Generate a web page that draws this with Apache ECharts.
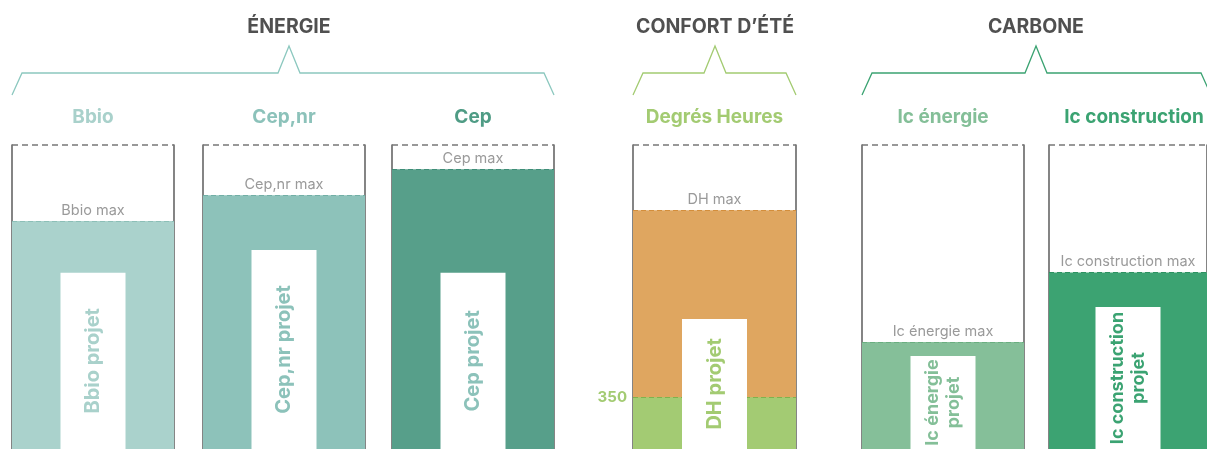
<!DOCTYPE html>
<html>
<head>
<meta charset="utf-8">
<script src="https://cdn.jsdelivr.net/npm/echarts@6/dist/echarts.min.js"></script>
<style>
html,body{margin:0;padding:0;background:#fff;}
#chart{width:1207px;height:449px;}
</style>
</head>
<body>
<div id="chart"></div>
<script>
// ---- DATA ----
const groupTitles = ['ÉNERGIE', 'CONFORT D’ÉTÉ', 'CARBONE'];
const categories = ['Bbio', 'Cep,nr', 'Cep', 'Degrés Heures', 'Ic énergie', 'Ic construction'];
const maxLabels = ['Bbio max', 'Cep,nr max', 'Cep max', 'DH max', 'Ic énergie max', 'Ic construction max'];
const projetLabels = ['Bbio projet', 'Cep,nr projet', 'Cep projet', 'DH projet', 'Ic énergie\nprojet', 'Ic construction\nprojet'];
const maxValues = [75, 83.5, 92, 78.5, 35.2, 58.1];      // relative height (0-100 scale)
const projetValues = [58, 65.5, 58, 42.8, 30.6, 46.7];
const dhThresholdValue = 17;
const dhThresholdLabel = '350';
const axisMax = 100;

// ---- STYLE / LAYOUT ----
const FONT = 'Inter';
const colLeft = [12, 203, 392, 633, 862, 1049];
const colWidth = [162, 162, 162, 163, 162, 170];
const gridTop = 145, gridHeight = 304;
const fillColors = ['#aad2cc', '#8dc2ba', '#579f8a', '#dfa660', '#85bf99', '#3ca372'];
const lineColors = ['#8cbfb7', '#72afa6', '#3f8e78', '#d38e3c', '#6aae80', '#2d9261'];
const headerColors = ['#a9d1cb', '#8cc2ba', '#4f9c85', '#a3cb72', '#84bf98', '#3ba372'];
const projetColors = ['#a9d1cb', '#8cc2ba', '#8cc2ba', '#a3cb72', '#84bf98', '#3ba372'];
const dhGreen = '#a3cb73';
const groupColors = ['#8cc8bf', '#a3cb72', '#3ba372'];
const groupCols = [[0, 2], [3, 3], [4, 5]];
const groupPeaks = [289, 715, 1036];

const grids = [], xAxes = [], yAxes = [], series = [];
categories.forEach((cat, i) => {
  grids.push({left: colLeft[i], top: gridTop, width: colWidth[i], height: gridHeight, containLabel: false});
  const xBase = {type: 'category', gridIndex: i, data: [cat], show: false};
  xAxes.push(Object.assign({}, xBase));
  xAxes.push(Object.assign({}, xBase));
  const yBase = {
    type: 'value', gridIndex: i, min: 0, max: axisMax,
    axisLine: {show: true, lineStyle: {color: '#666', width: 1.6}},
    axisTick: {show: false}, axisLabel: {show: false}, splitLine: {show: false}
  };
  yAxes.push(Object.assign({position: 'left'}, yBase));
  yAxes.push(Object.assign({position: 'right'}, yBase));

  const markData = [
    {yAxis: maxValues[i], lineStyle: {color: lineColors[i], type: [5, 3], width: 1.2},
     label: {show: true, formatter: maxLabels[i], position: 'insideMiddleTop', color: '#9a9a9a',
             fontSize: 14.5, fontFamily: FONT, distance: 3}},
    {yAxis: axisMax, lineStyle: {color: '#777', type: [6, 4], width: 1.5}, label: {show: false}}
  ];
  series.push({
    type: 'bar', xAxisIndex: 2 * i, yAxisIndex: 2 * i, barWidth: '100%', barGap: '-100%', z: 2,
    data: [maxValues[i]], itemStyle: {color: fillColors[i]}, silent: true,
    markLine: {symbol: 'none', silent: true, data: markData}
  });
  if (i === 3) {
    series.push({
      type: 'bar', xAxisIndex: 2 * i, yAxisIndex: 2 * i, barWidth: '100%', barGap: '-100%', z: 2,
      data: [dhThresholdValue], itemStyle: {color: dhGreen}, silent: true,
      markLine: {symbol: 'none', silent: true, data: [
        {yAxis: dhThresholdValue, lineStyle: {color: '#7fb24d', type: [5, 3], width: 1.2},
         label: {show: true, formatter: dhThresholdLabel, position: 'start', color: '#a3cb72',
                 fontWeight: 'bold', fontSize: 15, fontFamily: FONT, distance: 6}}
      ]}
    });
  }
  const twoLine = projetLabels[i].indexOf('\n') >= 0;
  series.push({
    type: 'bar', xAxisIndex: 2 * i + 1, yAxisIndex: 2 * i, barWidth: 65, z: 10,
    data: [projetValues[i]], itemStyle: {color: '#ffffff'}, silent: true,
    label: {show: true, position: 'inside', rotate: 90, formatter: projetLabels[i],
            color: projetColors[i], fontWeight: 'bold', fontSize: twoLine ? 18 : 20, fontFamily: FONT,
            lineHeight: 21, align: 'center', verticalAlign: 'middle'}
  });
});

// ---- Headers and brackets ----
const graphics = [];
categories.forEach((cat, i) => {
  graphics.push({type: 'text', x: colLeft[i] + colWidth[i] / 2, y: 117,
    style: {text: cat, fill: headerColors[i], font: 'bold 19px ' + FONT, textAlign: 'center', textVerticalAlign: 'middle'}});
});
groupTitles.forEach((t, g) => {
  const a = colLeft[groupCols[g][0]];
  const last = groupCols[g][1];
  const b = colLeft[last] + (g === 2 ? 162 : colWidth[last]);
  const p = groupPeaks[g];
  graphics.push({type: 'text', x: p, y: 27,
    style: {text: t, fill: '#505050', font: 'bold 19.5px ' + FONT, textAlign: 'center', textVerticalAlign: 'middle'}});
  graphics.push({type: 'polyline', silent: true,
    shape: {points: [[a, 95], [a + 10, 73], [p - 11, 73], [p, 46], [p + 11, 73], [b - 10, 73], [b, 95]]},
    style: {stroke: groupColors[g], lineWidth: 1.3, fill: null}});
});

const chart = echarts.init(document.getElementById('chart'), null, {renderer: 'canvas'});
chart.setOption({
  animation: false,
  grid: grids, xAxis: xAxes, yAxis: yAxes, series: series, graphic: graphics
});
</script>
</body>
</html>
